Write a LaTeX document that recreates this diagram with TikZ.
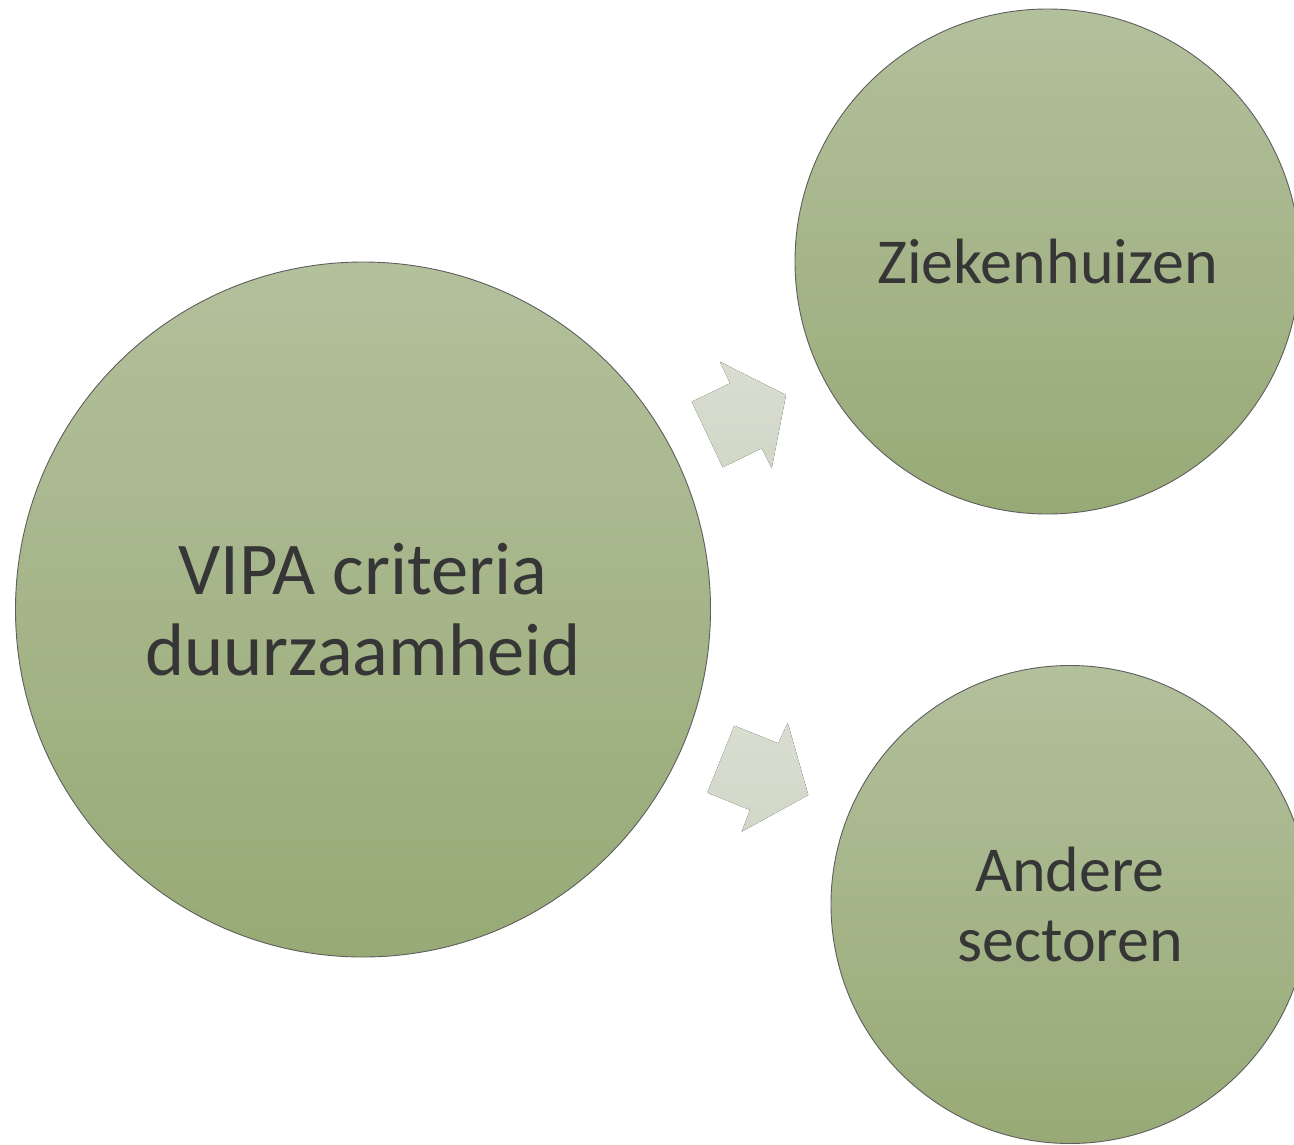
\documentclass[tikz,border=0pt]{standalone}
\usepackage{fontspec}
\setmainfont{Carlito}
\definecolor{ctop}{HTML}{B3C09C}
\definecolor{cbot}{HTML}{97AA76}
\definecolor{cline}{HTML}{5E5E5E}
\definecolor{ctext}{HTML}{363636}
\definecolor{atop}{HTML}{D8DDD0}
\definecolor{abot}{HTML}{D2D8C8}
\tikzset{
  bubble/.style={circle, draw=cline, line width=0.9pt, top color=ctop, bottom color=cbot,
    text=ctext, align=center, inner sep=0pt},
  blockarrow/.style={top color=atop, bottom color=abot, draw=none}
}
\begin{document}
\begin{tikzpicture}[x=1pt,y=-1pt]
\useasboundingbox (0,0) rectangle (1294,1144);
\clip (0,0) rectangle (1294,1144);
\node[bubble, minimum size=695pt, font=\fontsize{74.5}{81}\selectfont] (main) at (363,609.5) {VIPA criteria\\duurzaamheid};
\node[bubble, minimum size=505pt, font=\fontsize{64}{70}\selectfont] (zk) at (1047.5,261.5) {Ziekenhuizen};
\node[bubble, minimum size=478pt, font=\fontsize{64}{70}\selectfont] (as) at (1070,904.5) {Andere\\sectoren};
\fill[blockarrow] (691.7,401.7) -- (730,383.3) -- (720,361.7) -- (786,395) -- (771.7,468.3) -- (761.7,448.3) -- (722.7,467.3) -- cycle;
\fill[blockarrow] (734.3,725.7) -- (778.3,743.3) -- (787.7,722.7) -- (808.3,795) -- (741.7,831.7) -- (750,810) -- (707.3,792.7) -- cycle;
\end{tikzpicture}
\end{document}
